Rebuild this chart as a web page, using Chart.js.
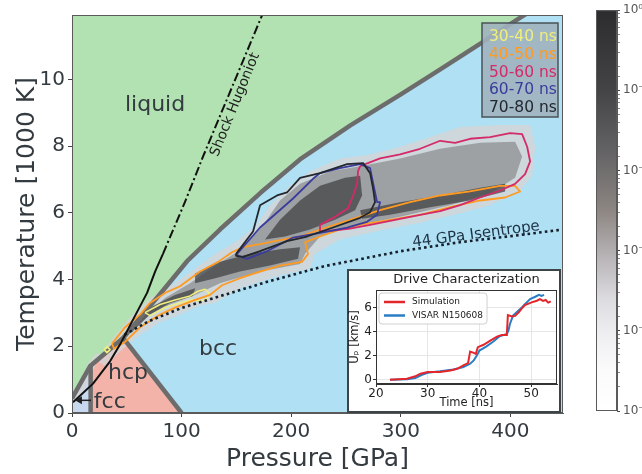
<!DOCTYPE html>
<html><head><meta charset="utf-8">
<script src="https://cdn.jsdelivr.net/npm/chart.js@4.4.1/dist/chart.umd.min.js"></script>
<style>
html,body{margin:0;padding:0;background:#fff;overflow:hidden}
#wrap{position:relative;width:642px;height:474px}
canvas{position:absolute;display:block}
</style></head><body>
<div id="wrap">
<canvas id="main" width="642" height="474" style="left:0;top:0"></canvas>
<canvas id="cbar" width="62" height="474" style="left:580px;top:0"></canvas>
<canvas id="inset" width="214" height="144" style="left:347px;top:269px"></canvas>
</div>
<script>
// ---------------- data (pressure GPa, temperature 1000 K) ----------------
const X_TICKS = [0, 100, 200, 300, 400];
const Y_TICKS = [0, 2, 4, 6, 8, 10];
const X_TITLE = 'Pressure [GPa]';
const Y_TITLE = 'Temperature [1000 K]';

const MELT = [[0,0.44],[16.4,1.40],[46.6,2.25],[80,3.55],[105,4.55],[135,5.5],[172,6.6],[208,7.6],[254,8.62],[300,9.55],[336,10.3],[374,11.1],[409,11.85],[450,12.7]];
const HCP_REGION = [[17,0],[17,1.43],[46.6,2.25],[100,0]];
const FCC_REGION = [[0,0],[0,0.44],[17,1.43],[17,0]];
const HCP_BCC = [[46.6,2.25],[100,0]];
const HCP_FCC = [[17,0],[17,1.43]];

const HUGONIOT_SOLID = [[0.9,0.32],[19.2,0.88],[34.7,1.55],[43.8,2.05],[55.7,2.8],[68.5,3.6],[76,4.25],[83,4.77]];
const HUGONIOT_DASH = [[83,4.77],[103,6.32],[119.6,7.69],[173.5,11.93]];
const ISENTROPE = [[48,2.35],[70,2.75],[100,3.15],[135,3.5],[180,3.95],[230,4.4],[300,4.85],[354,5.12],[400,5.3],[448,5.5]];

// density (heat-map) levels
const HEAT_LOW = [[23.7,1.55],[34.7,2.13],[52.9,2.87],[71.2,3.45],[89.4,3.80],[112.3,4.33],[130.7,4.77],[148.8,5.12],[167,5.58],[180.7,6.23],[199,6.81],[217.2,7.25],[244.6,7.63],[272,7.75],[299.4,7.98],[326.7,8.27],[354.1,8.57],[390.6,8.63],[418,8.63],[422.6,7.98],[419.9,7.11],[408.9,6.67],[381.5,6.23],[354.1,5.99],[317.6,5.70],[281.1,5.47],[244.6,5.21],[221.8,4.77],[217.2,4.33],[189.8,4.12],[153.3,3.74],[130.7,3.30],[116.8,3.22],[98.6,2.95],[80.3,2.72],[62.1,2.34],[43.8,1.84],[30.1,1.40]];
const HEAT_EDGE = [[1.8,0.44],[7.3,0.96],[14.6,1.49],[21.9,1.78],[25.6,1.78],[21,1.40],[14.6,0.96],[7.3,0.44]];
const HEAT_MID = [[42,2.19],[62.1,2.78],[84.9,3.45],[107.7,3.89],[130.7,4.42],[153.3,4.88],[173.4,5.58],[189.8,6.37],[208.1,6.87],[235.5,7.25],[262.9,7.40],[299.4,7.63],[335.9,7.92],[372.4,8.10],[404.3,8.13],[410.7,7.69],[404.3,7.05],[381.5,6.58],[345,6.23],[299.4,5.88],[253.7,5.58],[226.3,5.29],[212.7,4.77],[208.1,4.47],[171.6,4.24],[135.1,3.89],[112.3,3.54],[89.4,3.25],[71.2,2.95],[52.9,2.49],[39.2,1.99]];
const HEAT_HIGH_A = [[176.1,5.20],[189.8,5.79],[208.1,6.37],[226.3,6.81],[249.2,7.05],[262.9,7.11],[264.7,6.52],[258.3,6.08],[240,5.79],[217.2,5.50],[194.4,5.29]];
const HEAT_HIGH_B = [[112.3,4.18],[135.1,4.53],[162.6,4.77],[189.8,4.91],[208.1,4.97],[206.3,4.62],[180.7,4.42],[153.3,4.24],[130.7,4.04],[112.3,3.89]];
const HEAT_HIGH_C = [[262.9,6.08],[299.4,6.32],[335.9,6.52],[372.4,6.75],[395.2,6.87],[395.2,6.64],[363.2,6.37],[326.7,6.17],[290.2,5.94],[264.7,5.82]];
const HEAT_HIGH_D = [[52.9,2.57],[71.2,3.16],[94,3.54],[112.3,3.74],[110.4,3.51],[89.4,3.30],[71.2,2.95],[54.8,2.43]];

// time-window contours
const SERIES = ['30-40 ns', '40-50 ns', '50-60 ns', '60-70 ns', '70-80 ns'];
const C_30_40 = [[66.6,3.01],[80.3,3.25],[94,3.39],[107.7,3.51],[115,3.65],[121.4,3.71],[125,3.60],[123.2,3.42],[116.8,3.36],[109.5,3.39],[98.6,3.30],[84.9,3.16],[71.2,2.92]];
const C_30_40_B = [[29.2,1.90],[31.9,1.99],[34.7,1.90],[31.9,1.81]];
const C_40_50 = [[36.5,2.08],[48.4,2.57],[62.1,2.95],[71.2,3.30],[84.9,3.60],[98.6,3.80],[116.8,4.24],[133.3,4.53],[146,4.82],[156.1,4.97],[171.6,5.06],[189.8,5.18],[208.1,5.29],[226.3,5.50],[253.7,5.79],[281.1,6.08],[308.5,6.32],[335.9,6.52],[363.2,6.64],[390.6,6.81],[404.3,6.81],[408.9,6.64],[395.2,6.46],[372.4,6.37],[345,6.17],[317.6,5.94],[290.2,5.79],[262.9,5.64],[244.6,5.50],[226.3,5.29],[212.7,5.12],[215.4,4.77],[209.9,4.53],[189.8,4.42],[171.6,4.24],[153.3,4.04],[136.9,3.83],[125.9,3.54],[112.3,3.39],[94,3.16],[80.3,2.95],[62.1,2.57],[48.4,2.13],[38.3,1.93]];
const C_50_60 = [[262.9,7.40],[281.1,7.63],[299.4,7.75],[317.6,7.92],[335.9,8.16],[349.6,8.10],[363.2,8.22],[381.5,8.27],[399.7,8.39],[410.7,8.36],[415.3,7.98],[418,7.54],[413.4,7.16],[404.3,6.87],[390.6,6.67],[372.4,6.46],[354.1,6.23],[335.9,6.05],[317.6,5.94],[294.8,5.79],[272,5.64],[253.7,5.53],[238.2,5.47],[226.3,5.44],[226.3,5.64],[240,5.88],[251.9,6.14],[256.5,6.52],[260.1,6.87],[261,7.25]];
const C_60_70 = [[150.6,4.77],[171.6,5.56],[201.7,6.43],[219.9,7.02],[226.3,7.19],[244.6,7.34],[262.9,7.46],[272,7.34],[274.7,6.90],[278.4,6.32],[281.1,6.32],[278.4,5.94],[269.2,5.73],[251,5.56],[232.7,5.44],[201.7,5.26],[178,4.85],[159.7,4.62],[151.5,4.71]];
const C_70_80 = [[149.7,4.77],[165.2,5.44],[171.6,6.23],[187.1,6.52],[196.2,6.61],[208.1,7.05],[226.3,7.19],[251,7.46],[265.6,7.49],[272,7.19],[274.7,6.73],[276.5,6.32],[272,6.02],[262.9,5.85],[238.2,5.56],[214.5,5.29],[196.2,5.15],[171.6,4.85],[156.1,4.68],[149.7,4.71]];

const PHASES = ['liquid', 'bcc', 'hcp', 'fcc'];
const CURVES = ['Shock Hugoniot', '44 GPa Isentrope'];

// colour bar
const CBAR_LABELS = ['10\u2070', '10\u207b\u00b9', '10\u207b\u00b2', '10\u207b\u00b3', '10\u207b\u2074', '10\u207b\u2075'];

// inset
const INSET_TITLE = 'Drive Characterization';
const INSET_SERIES = ['Simulation', 'VISAR N150608'];
const INSET_X_TITLE = 'Time [ns]';
const INSET_Y_TITLE = 'U\u209a [km/s]';
const INSET_X_TICKS = [20, 30, 40, 50];
const INSET_Y_TICKS = [0, 2, 4, 6];
const SIMULATION = [[22.7,0],[26,0.08],[27.6,0.28],[28.6,0.5],[30,0.63],[32.4,0.63],[34.4,0.77],[35.7,0.9],[36.9,1.18],[37.8,1.38],[38.2,2.34],[38.9,2.23],[39.3,2.15],[39.7,2.7],[40.8,2.9],[42.1,3.25],[43.4,3.58],[44.3,3.72],[45.3,3.72],[45.5,5.37],[46.3,5.26],[46.9,5.3],[47.6,5.6],[48.2,5.92],[48.8,6.2],[50.1,6.42],[51.1,6.56],[51.7,6.7],[52.3,6.55],[52.8,6.62],[53.3,6.4],[53.8,6.5]];
const VISAR = [[22.7,0],[26,0.03],[27.6,0.14],[28.9,0.41],[30,0.58],[32.4,0.69],[35,0.85],[36.9,1.05],[38.2,1.32],[38.9,1.6],[39.5,2.0],[40,2.42],[41.3,2.75],[42.7,3.17],[43.9,3.6],[45.3,3.8],[45.6,4.08],[45.9,4.63],[46.5,5.32],[47.2,5.6],[48.2,6.0],[48.8,6.28],[49.8,6.69],[50.8,6.89],[51.5,7.05],[52,6.95],[52.5,7.05]];

// ---------------- styling ----------------
const FONT = "'DejaVu Sans', sans-serif";
Chart.defaults.font.family = FONT;
const C = {
  liquid: '#b2e2b1', bcc: '#b0e0f3', hcp: '#f4b3a8', fcc: '#c8d8ef',
  boundary: '#6c6c6c', text: '#333b40',
  heatLow: 'rgba(212,212,214,0.8)', heatMid: 'rgba(140,140,142,0.72)', heatHigh: 'rgba(62,62,64,0.72)',
  series: ['#f0ee7c', '#ff9a22', '#d42a68', '#3a3c9c', '#22282e']
};
const pts = a => a.map(([x, y]) => ({x, y}));
const loop = a => pts(a.concat([a[0]]));
const region = (a, color, order) => ({data: pts(a), fill: 'shape', backgroundColor: color, borderColor: 'transparent', borderWidth: 0, pointRadius: 0, order});
const curve = (a, color, width, dash, order, closed) => ({data: closed ? loop(a) : pts(a), fill: false, borderColor: color, borderWidth: width, borderDash: dash || [], pointRadius: 0, order, borderJoinStyle: 'round'});

const ANNOT = [
  {text: PHASES[0], x: 75.8, y: 9.21, size: 22, rot: 0, color: C.text},
  {text: PHASES[1], x: 133.3, y: 1.90, size: 22, rot: 0, color: C.text},
  {text: PHASES[2], x: 51.1, y: 1.20, size: 22, rot: 0, color: C.text},
  {text: PHASES[3], x: 34.5, y: 0.32, size: 22, rot: 0, color: C.text},
  {text: CURVES[0], x: 148.8, y: 9.24, size: 14, rot: -67.9, color: '#222'},
  {text: CURVES[1], x: 368.7, y: 5.35, size: 15, rot: -7.5, color: '#1f3346'}
];
const ARROW = {from: [17.3, 0.38], to: [2.7, 0.38]};

const annotPlugin = {
  id: 'annot',
  afterDatasetsDraw(chart) {
    const {ctx, scales: {x, y}, chartArea: ca} = chart;
    ctx.save();
    for (const a of ANNOT) {
      ctx.save();
      ctx.translate(x.getPixelForValue(a.x), y.getPixelForValue(a.y));
      ctx.rotate(a.rot * Math.PI / 180);
      ctx.font = a.size + 'px ' + FONT;
      ctx.fillStyle = a.color;
      ctx.textAlign = 'center';
      ctx.textBaseline = 'middle';
      ctx.fillText(a.text, 0, 0);
      ctx.restore();
    }
    // fcc arrow
    const x0 = x.getPixelForValue(ARROW.from[0]), y0 = y.getPixelForValue(ARROW.from[1]);
    const x1 = x.getPixelForValue(ARROW.to[0]), y1 = y.getPixelForValue(ARROW.to[1]);
    ctx.strokeStyle = '#222'; ctx.fillStyle = '#222'; ctx.lineWidth = 1.5;
    ctx.beginPath(); ctx.moveTo(x0, y0); ctx.lineTo(x1 + 5, y1); ctx.stroke();
    ctx.beginPath(); ctx.moveTo(x1, y1); ctx.lineTo(x1 + 7, y1 - 4); ctx.lineTo(x1 + 7, y1 + 4); ctx.closePath(); ctx.fill();
    // frame
    ctx.strokeStyle = '#5a5a5a'; ctx.lineWidth = 1;
    ctx.strokeRect(ca.left + 0.5, ca.top + 0.5, ca.right - ca.left - 1, ca.bottom - ca.top - 1);
    // legend box
    const bw = 76, bh = 94, bx = ca.right - bw - 5, by = ca.top + 8;
    ctx.fillStyle = 'rgba(160,178,190,0.9)';
    ctx.fillRect(bx, by, bw, bh);
    ctx.strokeStyle = '#4a5358'; ctx.lineWidth = 1.5;
    ctx.strokeRect(bx, by, bw, bh);
    ctx.font = '15.5px ' + FONT;
    ctx.textAlign = 'left'; ctx.textBaseline = 'middle';
    SERIES.forEach((s, i) => { ctx.fillStyle = C.series[i]; ctx.fillText(s, bx + 7, by + 14 + i * 17.8); });
    ctx.restore();
  }
};

const datasets = [
  Object.assign(region(MELT, C.liquid, 100), {fill: 'end'}),
  Object.assign(region(MELT, C.bcc, 101), {fill: 'start'}),
  region(HCP_REGION, C.hcp, 99),
  region(FCC_REGION, C.fcc, 99),
  region(HEAT_LOW, C.heatLow, 90),
  region(HEAT_EDGE, C.heatLow, 90),
  region(HEAT_MID, C.heatMid, 89),
  region(HEAT_HIGH_A, C.heatHigh, 88),
  region(HEAT_HIGH_B, C.heatHigh, 88),
  region(HEAT_HIGH_C, C.heatHigh, 88),
  region(HEAT_HIGH_D, C.heatHigh, 88),
  curve(MELT, C.boundary, 4.5, null, 70),
  curve(HCP_BCC, C.boundary, 4.5, null, 70),
  curve(HCP_FCC, C.boundary, 4.5, null, 70),
  Object.assign(curve(C_30_40, C.series[0], 1.6, null, 60, true), {label: SERIES[0]}),
  curve(C_30_40_B, C.series[0], 1.6, null, 60, true),
  Object.assign(curve(C_40_50, C.series[1], 1.8, null, 59, true), {label: SERIES[1]}),
  Object.assign(curve(C_50_60, C.series[2], 1.8, null, 58, true), {label: SERIES[2]}),
  Object.assign(curve(C_60_70, C.series[3], 1.8, null, 57, true), {label: SERIES[3]}),
  Object.assign(curve(C_70_80, C.series[4], 1.8, null, 56, true), {label: SERIES[4]}),
  curve(HUGONIOT_SOLID, '#111', 2, null, 50),
  curve(HUGONIOT_DASH, '#111', 2, [9, 3, 2, 3], 50),
  curve(ISENTROPE, '#15202c', 2.6, [2.6, 3.2], 50)
];

new Chart(document.getElementById('main'), {
  type: 'line',
  data: {datasets},
  options: {
    responsive: false, animation: false, devicePixelRatio: 1,
    layout: {padding: {left: 0, top: 5, right: 79, bottom: 0}},
    plugins: {legend: {display: false}, tooltip: {enabled: false}},
    elements: {line: {tension: 0}},
    scales: {
      x: {
        type: 'linear', min: 0, max: 448,
        afterBuildTicks: s => { s.ticks = X_TICKS.map(v => ({value: v})); },
        afterFit: s => { s.height = 61; },
        grid: {drawOnChartArea: false, tickLength: 4, tickColor: '#444'},
        border: {color: '#5a5a5a'},
        ticks: {font: {size: 20}, color: C.text, padding: 3, maxRotation: 0},
        title: {display: true, text: X_TITLE, font: {size: 25}, color: C.text, padding: {top: 0, bottom: 0}}
      },
      y: {
        type: 'linear', min: 0, max: 11.93,
        afterBuildTicks: s => { s.ticks = Y_TICKS.map(v => ({value: v})); },
        afterFit: s => { s.width = 72; },
        grid: {drawOnChartArea: false, tickLength: 4, tickColor: '#444'},
        border: {color: '#5a5a5a'},
        ticks: {font: {size: 20}, color: C.text, padding: 3},
        title: {display: true, text: Y_TITLE, font: {size: 25}, color: C.text, padding: {top: 12, bottom: 0}}
      }
    }
  },
  plugins: [annotPlugin]
});

// ---------------- colour bar ----------------
const CBAR_STOPS = [[0, '#ffffff'], [0.10, '#fbfbfc'], [0.19, '#efeff2'], [0.28, '#dcdbe0'], [0.37, '#bdb9bd'], [0.50, '#8d8682'], [0.65, '#636264'], [0.80, '#444446'], [1, '#2c2c2e']];
const cbarPlugin = {
  id: 'cbar',
  beforeDatasetsDraw(chart) {
    const {ctx, chartArea: ca, scales: {y}} = chart;
    const g = ctx.createLinearGradient(0, y.getPixelForValue(1e-5), 0, y.getPixelForValue(1));
    CBAR_STOPS.forEach(([t, c]) => g.addColorStop(t, c));
    ctx.save();
    ctx.fillStyle = g;
    ctx.fillRect(ca.left, ca.top, ca.right - ca.left, ca.bottom - ca.top);
    ctx.strokeStyle = '#5a5a5a'; ctx.lineWidth = 1;
    ctx.strokeRect(ca.left + 0.5, ca.top + 0.5, ca.right - ca.left - 1, ca.bottom - ca.top - 1);
    ctx.restore();
  }
};
new Chart(document.getElementById('cbar'), {
  type: 'line',
  data: {datasets: []},
  options: {
    responsive: false, animation: false, devicePixelRatio: 1,
    layout: {padding: {left: 16, top: 8, right: 0, bottom: 63}},
    plugins: {legend: {display: false}, tooltip: {enabled: false}},
    scales: {
      x: {type: 'linear', display: false, min: 0, max: 1},
      y: {
        type: 'logarithmic', position: 'right', min: 1e-5, max: 1,
        afterFit: s => { s.width = 25; },
        grid: {drawOnChartArea: false, tickLength: 3, tickColor: ctx => {
          const e = Math.log10(ctx.tick.value); return Math.abs(e - Math.round(e)) < 1e-6 ? '#444' : '#888'; }},
        border: {color: '#5a5a5a'},
        ticks: {autoSkip: false, font: {size: 12}, color: '#555', padding: 3,
          callback: v => { const e = Math.log10(v); return Math.abs(e - Math.round(e)) < 1e-6 ? CBAR_LABELS[-Math.round(e)] : ''; }}
      }
    }
  },
  plugins: [cbarPlugin]
});

// ---------------- inset ----------------
const INSET_COLORS = ['#e3262b', '#2a7cc4'];
const insetPlugin = {
  id: 'insetbox',
  beforeDraw(chart) {
    const {ctx, width, height} = chart;
    ctx.save();
    ctx.fillStyle = '#ffffff';
    ctx.fillRect(0, 0, width, height);
    ctx.strokeStyle = '#3c4448'; ctx.lineWidth = 2;
    ctx.strokeRect(1, 1, width - 2, height - 2);
    ctx.restore();
  },
  afterDatasetsDraw(chart) {
    const {ctx, chartArea: ca} = chart;
    ctx.save();
    ctx.strokeStyle = '#333'; ctx.lineWidth = 1;
    ctx.strokeRect(ca.left + 0.5, ca.top + 0.5, ca.right - ca.left - 1, ca.bottom - ca.top - 1);
    // title centred on the axes
    ctx.font = '13px ' + FONT; ctx.fillStyle = '#222';
    ctx.textAlign = 'center'; ctx.textBaseline = 'middle';
    ctx.fillText(INSET_TITLE, (ca.left + ca.right) / 2, ca.top - 10);
    // legend
    const bx = ca.left + 3, by = ca.top + 3, bw = 108, bh = 31;
    ctx.fillStyle = 'rgba(255,255,255,0.85)';
    ctx.strokeStyle = '#d0d0d0';
    ctx.beginPath();
    if (ctx.roundRect) ctx.roundRect(bx, by, bw, bh, 3); else ctx.rect(bx, by, bw, bh);
    ctx.fill(); ctx.stroke();
    ctx.font = '9px ' + FONT; ctx.textBaseline = 'middle'; ctx.textAlign = 'left';
    INSET_SERIES.forEach((s, i) => {
      const yy = by + 9 + i * 13.5;
      ctx.strokeStyle = INSET_COLORS[i]; ctx.lineWidth = 2.5;
      ctx.beginPath(); ctx.moveTo(bx + 5, yy); ctx.lineTo(bx + 26, yy); ctx.stroke();
      ctx.fillStyle = '#222'; ctx.fillText(s, bx + 33, yy);
    });
    ctx.restore();
  }
};
new Chart(document.getElementById('inset'), {
  type: 'line',
  data: {datasets: [
    {label: INSET_SERIES[0], data: pts(SIMULATION), borderColor: INSET_COLORS[0], borderWidth: 2, pointRadius: 0, fill: false},
    {label: INSET_SERIES[1], data: pts(VISAR), borderColor: INSET_COLORS[1], borderWidth: 2, pointRadius: 0, fill: false}
  ]},
  options: {
    responsive: false, animation: false, devicePixelRatio: 1,
    layout: {padding: {left: 0, top: 21, right: 4, bottom: 0}},
    elements: {line: {tension: 0}},
    plugins: {legend: {display: false}, tooltip: {enabled: false}},
    scales: {
      x: {
        type: 'linear', min: 20, max: 55,
        afterBuildTicks: s => { s.ticks = INSET_X_TICKS.map(v => ({value: v})); },
        afterFit: s => { s.height = 29; },
        grid: {color: '#e6e6e6', tickLength: 3, tickColor: '#333'},
        border: {color: '#333'},
        ticks: {font: {size: 12}, color: '#222', padding: 0, maxRotation: 0},
        title: {display: true, text: INSET_X_TITLE, font: {size: 11.5}, color: '#222', padding: {top: 0, bottom: 3}}
      },
      y: {
        type: 'linear', min: -0.36, max: 7.45,
        afterBuildTicks: s => { s.ticks = INSET_Y_TICKS.map(v => ({value: v})); },
        afterFit: s => { s.width = 29; },
        grid: {color: '#e6e6e6', tickLength: 3, tickColor: '#333'},
        border: {color: '#333'},
        ticks: {font: {size: 12}, color: '#222', padding: 1},
        title: {display: true, text: INSET_Y_TITLE, font: {size: 11.5}, color: '#222', padding: {top: 1, bottom: 0}}
      }
    }
  },
  plugins: [insetPlugin]
});
</script>
</body></html>
